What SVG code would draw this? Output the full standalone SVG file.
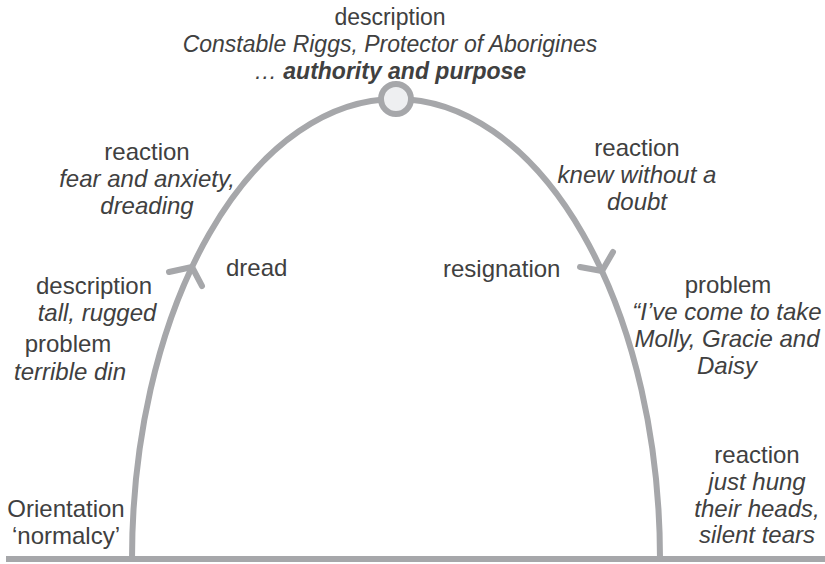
<svg xmlns="http://www.w3.org/2000/svg" width="825" height="564" viewBox="0 0 825 564">
<style>
text{font-family:"Liberation Sans",Arial,sans-serif;font-size:24px;fill:#404040}
.c{text-anchor:middle}
.i{font-style:italic}
.b{font-weight:bold}
.t{font-size:23px}
.ln{fill:none;stroke:#a6a7aa;stroke-width:6;stroke-linecap:round;stroke-linejoin:round}
</style>
<rect width="825" height="564" fill="#ffffff"/>
<g id="connectors">
<line class="ln" x1="6" y1="559" x2="825" y2="559" style="stroke-linecap:butt"/>
<path class="ln" d="M132 559 A264 460 0 0 1 660 559" style="stroke-linecap:butt"/>
<polyline class="ln" points="169,272 192,267 202,286"/>
<polyline class="ln" points="580,267 602,271 613,252"/>
</g>
<g id="climax">
<circle cx="396" cy="99" r="15" fill="#eeeff1" stroke="#a6a7aa" stroke-width="6"/>
<text class="c t" x="390" y="25">description</text>
<text class="c i t" x="390" y="52">Constable Riggs, Protector of Aborigines</text>
<text class="c i t" x="390" y="79">… <tspan class="b">authority and purpose</tspan></text>
</g>
<g id="reaction-left">
<text class="c" x="147" y="160">reaction</text>
<text class="c i" x="147" y="187">fear and anxiety,</text>
<text class="c i" x="147" y="214">dreading</text>
</g>
<g id="dread"><text x="226" y="276">dread</text></g>
<g id="description-left">
<text class="c" x="94" y="294">description</text>
<text class="c i" x="97" y="321">tall, rugged</text>
</g>
<g id="problem-left">
<text class="c" x="68" y="352">problem</text>
<text class="c i" x="70" y="380">terrible din</text>
</g>
<g id="orientation">
<text class="c" x="66" y="517">Orientation</text>
<text class="c" x="66" y="544">‘normalcy’</text>
</g>
<g id="reaction-right">
<text class="c" x="637" y="156">reaction</text>
<text class="c i" x="637" y="183">knew without a</text>
<text class="c i" x="637" y="210">doubt</text>
</g>
<g id="resignation"><text x="443" y="277">resignation</text></g>
<g id="problem-right">
<text class="c" x="728" y="293">problem</text>
<text class="c i" x="727" y="320">“I’ve come to take</text>
<text class="c i" x="727" y="347">Molly, Gracie and</text>
<text class="c i" x="727" y="374">Daisy</text>
</g>
<g id="reaction-bottom">
<text class="c" x="757" y="463">reaction</text>
<text class="c i" x="757" y="490">just hung</text>
<text class="c i" x="757" y="517">their heads,</text>
<text class="c i" x="757" y="543">silent tears</text>
</g>
</svg>
